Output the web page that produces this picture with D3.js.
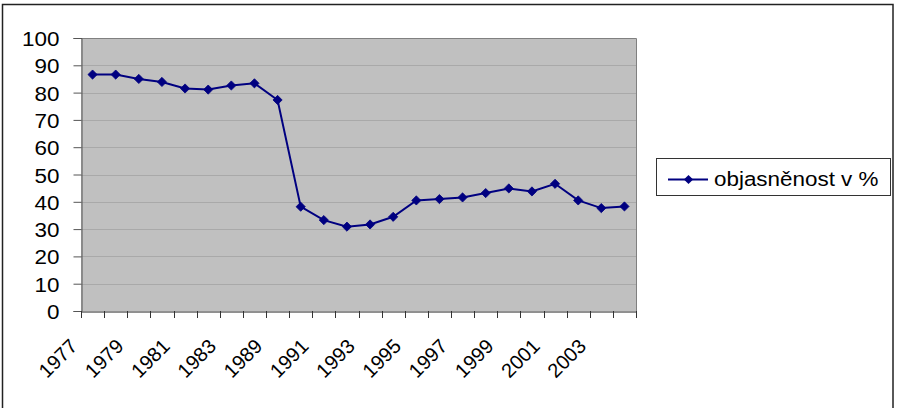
<!DOCTYPE html>
<html>
<head>
<meta charset="utf-8">
<script src="https://cdn.jsdelivr.net/npm/d3@7"></script>
<style>
  html, body { margin: 0; padding: 0; background: #fff; }
  svg { display: block; }
  text { font-family: Arial, "Liberation Sans", sans-serif; fill: #000; }
</style>
</head>
<body>
<svg id="chart" width="897" height="408"></svg>
<script>
// ---- data ----
const years = ["1977","1978","1979","1980","1981","1982","1983","1985","1989","1990",
               "1991","1992","1993","1994","1995","1996","1997","1998","1999","2000",
               "2001","2002","2003","2004"];
const values = [86.6, 86.6, 85.0, 83.9, 81.5, 81.1, 82.6, 83.4, 77.3, 38.2,
                33.3, 30.9, 31.7, 34.5, 40.5, 41.0, 41.6, 43.2, 44.9, 43.8,
                46.6, 40.5, 37.7, 38.3];
const yTicks = [0, 10, 20, 30, 40, 50, 60, 70, 80, 90, 100];
const seriesName = "objasněnost v %";

// ---- layout ----
const plot = { left: 81, right: 636, top: 38, bottom: 311 };
const sx = 1.15;
const fontSize = 19.5;
const navy = "#000080";

const svg = d3.select("#chart");

svg.append("rect")
  .attr("x", 2.5).attr("y", 4.5).attr("width", 890.5).attr("height", 420)
  .attr("fill", "#fff").attr("stroke", "#222").attr("stroke-width", 1.5);

const x = d3.scaleBand().domain(years).range([plot.left, plot.right]).paddingInner(0).paddingOuter(0);
const y = d3.scaleLinear().domain([0, 100]).range([plot.bottom, plot.top]);

svg.append("rect")
  .attr("x", plot.left).attr("y", plot.top)
  .attr("width", plot.right - plot.left).attr("height", plot.bottom - plot.top)
  .attr("fill", "#c0c0c0");

svg.append("g").selectAll("line")
  .data(yTicks.filter(d => d > 0 && d < 100))
  .join("line")
  .attr("x1", plot.left).attr("x2", plot.right)
  .attr("y1", d => Math.round(y(d)) + 0.5).attr("y2", d => Math.round(y(d)) + 0.5)
  .attr("stroke", "#a9a9a9").attr("stroke-width", 1);

svg.append("path")
  .attr("d", `M${plot.left},${plot.top + 0.5}H${plot.right + 0.5}V${plot.bottom}`)
  .attr("fill", "none").attr("stroke", "#808080").attr("stroke-width", 1);

const yAxis = svg.append("g")
  .attr("transform", `translate(${plot.left + 0.5},0)`)
  .call(d3.axisLeft(y).tickValues(yTicks).tickSize(8).tickPadding(0).tickFormat(d3.format("d")));
yAxis.select(".domain").attr("stroke", "#555");
yAxis.selectAll(".tick line").attr("stroke", "#555");
yAxis.selectAll(".tick text")
  .attr("x", null).attr("dy", null)
  .style("font-size", fontSize + "px")
  .attr("text-anchor", "end")
  .attr("transform", `translate(-22,7.5) scale(${sx},1)`);

const xAxis = svg.append("g")
  .attr("transform", `translate(0,${plot.bottom + 0.5})`)
  .call(d3.axisBottom(x).tickValues(years.filter((d, i) => i % 2 === 0)).tickSize(0).tickPadding(0));
xAxis.select(".domain").attr("stroke", "#222");
xAxis.selectAll(".tick text")
  .attr("y", null).attr("dy", null)
  .style("font-size", "20px")
  .attr("text-anchor", "end")
  .attr("transform", `translate(-14,36) rotate(-45)`);

svg.append("g").selectAll("line")
  .data(years.map(d => x(d)).concat([plot.right]))
  .join("line")
  .attr("x1", d => Math.round(d) + 0.5).attr("x2", d => Math.round(d) + 0.5)
  .attr("y1", plot.bottom).attr("y2", plot.bottom + 7)
  .attr("stroke", "#333").attr("stroke-width", 1);

const cx = d => x(d) + x.bandwidth() / 2;
const line = d3.line().x((d, i) => cx(years[i])).y(d => y(d));
svg.append("path")
  .datum(values)
  .attr("d", line)
  .attr("fill", "none").attr("stroke", navy).attr("stroke-width", 2);

const diamond = (px, py, r) => `M${px},${py - r}L${px + r},${py}L${px},${py + r}L${px - r},${py}Z`;
svg.append("g").selectAll("path")
  .data(values)
  .join("path")
  .attr("d", (d, i) => diamond(cx(years[i]), y(d), 4.6))
  .attr("fill", navy).attr("stroke", navy).attr("stroke-width", 0.8);

const lg = svg.append("g");
lg.append("rect")
  .attr("x", 656.5).attr("y", 158.5).attr("width", 234).attr("height", 37)
  .attr("fill", "#fff").attr("stroke", "#333").attr("stroke-width", 1);
lg.append("line")
  .attr("x1", 668).attr("x2", 708).attr("y1", 179.5).attr("y2", 179.5)
  .attr("stroke", navy).attr("stroke-width", 2);
lg.append("path").attr("d", diamond(688.5, 179.5, 4.6)).attr("fill", navy);
lg.append("text")
  .style("font-size", fontSize + "px")
  .attr("transform", `translate(714,185.5) scale(${sx},1)`)
  .text(seriesName);
</script>
</body>
</html>
